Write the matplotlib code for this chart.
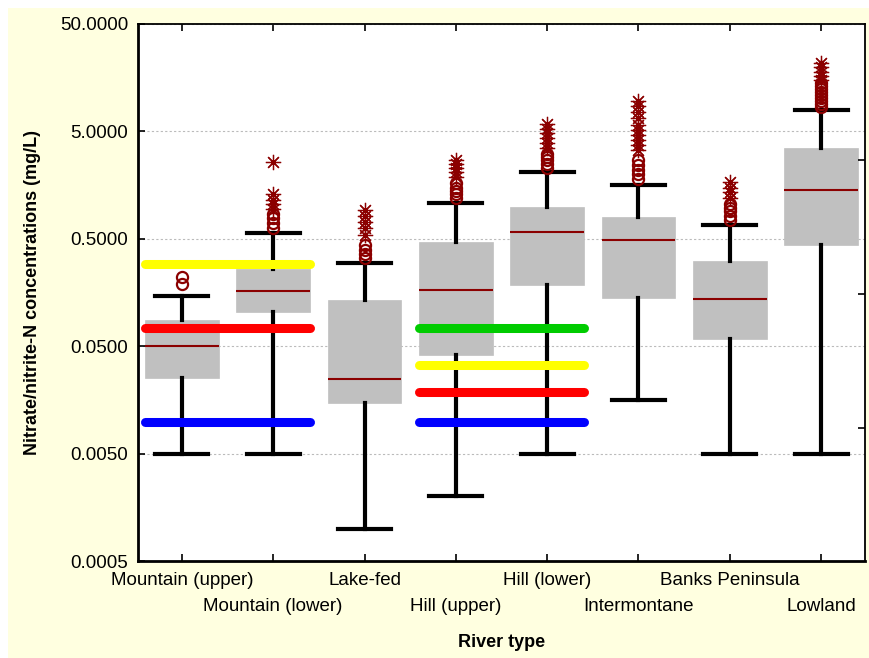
import matplotlib
matplotlib.use("Agg")
import matplotlib.pyplot as plt
from matplotlib.patches import Rectangle

categories = ["Mountain (upper)", "Mountain (lower)", "Lake-fed", "Hill (upper)",
              "Hill (lower)", "Intermontane", "Banks Peninsula", "Lowland"]
medians = [0.050, 0.163, 0.0248, 0.167, 0.58, 0.49, 0.138, 1.42]
q1 = [0.0253, 0.104, 0.0148, 0.0414, 0.186, 0.141, 0.0584, 0.437]
q3 = [0.0877, 0.262, 0.135, 0.467, 0.99, 0.80, 0.31, 3.5]
whis_lo = [0.005, 0.005, 0.001, 0.002, 0.005, 0.0158, 0.005, 0.005]
whis_hi = [0.147, 0.566, 0.30, 1.08, 2.10, 1.59, 0.673, 7.9]

outliers = [
    [0.19, 0.22],
    [0.63, 0.70, 0.78, 0.85],
    [0.33, 0.36, 0.39, 0.44],
    [1.2, 1.3, 1.4, 1.5, 1.64],
    [2.3, 2.5, 2.7, 2.9, 3.1],
    [1.8, 2.0, 2.2, 2.45, 2.7],
    [0.75, 0.82, 0.9, 0.97, 1.05],
    [8.5, 9.0, 9.6, 10.2, 10.9, 11.6, 12.4, 13.3, 14.2],
]
extremes = [
    [],
    [0.95, 1.05, 1.15, 1.3, 2.6],
    [0.54, 0.63, 0.72, 0.81, 0.92],
    [1.9, 2.1, 2.3, 2.5, 2.7],
    [3.5, 3.9, 4.3, 4.8, 5.3, 5.9],
    [3.35, 3.7, 4.2, 4.6, 5.2, 5.7, 6.7, 7.6, 8.6, 9.6],
    [1.2, 1.35, 1.5, 1.68],
    [15, 16.5, 18, 19.8, 21.7],
]

# guideline thresholds (group span in category units, value, colour)
guide_spans = [(-0.4, 1.4), (2.6, 4.4)]
guide_values = [[0.29, 0.074, 0.0098], [0.074, 0.0334, 0.0187, 0.0098]]
guide_colors = [["#FFFF00", "#FF0000", "#0000FF"], ["#00CC00", "#FFFF00", "#FF0000", "#0000FF"]]

yticks = [0.0005, 0.005, 0.05, 0.5, 5, 50]
ytick_labels = ["0.0005", "0.0050", "0.0500", "0.5000", "5.0000", "50.0000"]

plt.rcParams['font.family'] = ['Liberation Sans', 'DejaVu Sans']

fig = plt.figure(figsize=(8.69, 6.58), dpi=100)
fig.patch.set_facecolor("white")
fig.patches.append(Rectangle((8 / 869, 0), 1, (658 - 8) / 658, transform=fig.transFigure,
                             facecolor="#FFFFE0", edgecolor="none", zorder=-10))

ax = fig.add_axes([138 / 869, 97 / 658, (865 - 138) / 869, (561 - 24) / 658])
ax.set_facecolor("white")

pos = list(range(len(categories)))
stats = []
for i in pos:
    stats.append(dict(med=medians[i], q1=q1[i], q3=q3[i], whislo=whis_lo[i],
                      whishi=whis_hi[i], fliers=[]))
ax.bxp(stats, positions=pos, widths=0.81, patch_artist=True, showfliers=False,
       capwidths=0.58,
       boxprops=dict(facecolor="#C0C0C0", edgecolor="#C0C0C0", linewidth=0.5),
       whiskerprops=dict(color="black", linewidth=3),
       capprops=dict(color="black", linewidth=3),
       medianprops=dict(color="#8B0000", linewidth=1.5),
       zorder=2)

for i in pos:
    if outliers[i]:
        ax.plot([i] * len(outliers[i]), outliers[i], linestyle="none", marker="o",
                markersize=8, markerfacecolor="none", markeredgecolor="#8B0000",
                markeredgewidth=1.6, zorder=4)
    if extremes[i]:
        ax.plot([i] * len(extremes[i]), extremes[i], linestyle="none", marker=(8, 2, 0),
                markersize=11, markeredgecolor="#8B0000", color="#8B0000",
                markeredgewidth=0.9, zorder=4)

for (x0, x1), vals, cols in zip(guide_spans, guide_values, guide_colors):
    for v, c in zip(vals, cols):
        ax.plot([x0, x1], [v, v], color=c, linewidth=6.5, solid_capstyle="round", zorder=5)

ax.set_yscale("log")
ax.set_ylim(0.0005, 50)
ax.set_xlim(-0.48, 7.48)
ax.set_yticks(yticks)
ax.set_yticklabels(ytick_labels)
ax.yaxis.set_minor_locator(matplotlib.ticker.NullLocator())

ax.set_xticks(pos)
ax.set_xticklabels(categories)

ax.tick_params(axis="both", direction="in", length=5, width=1.2, labelsize=13.5,
               top=True, right=False, pad=6)
ax.tick_params(axis="y", pad=7)
for i, t in enumerate(ax.xaxis.get_major_ticks()):
    t.set_pad(8 if i % 2 == 0 else 26.5)

ax.grid(axis="y", which="major", linestyle=(0, (2, 2)), color="#BBBBBB", linewidth=0.8, zorder=0)
ax.set_axisbelow(True)

for s in ["left", "bottom"]:
    ax.spines[s].set_linewidth(2)
for s in ["top", "right"]:
    ax.spines[s].set_linewidth(1.3)

ax2 = ax.twinx()
ax2.set_ylim(0, 537 / 133.5)
ax2.set_yticks([1, 2, 3])
ax2.set_yticklabels([])
ax2.tick_params(axis="y", direction="in", length=5, width=1.2)
for s in ax2.spines.values():
    s.set_visible(False)

ax.set_ylabel("Nitrate/nitrite-N concentrations (mg/L)", fontsize=13, fontweight="bold", labelpad=14)
ax.set_xlabel("River type", fontsize=13, fontweight="bold", labelpad=14)

fig.savefig("out.png", dpi=100, facecolor=fig.get_facecolor())
